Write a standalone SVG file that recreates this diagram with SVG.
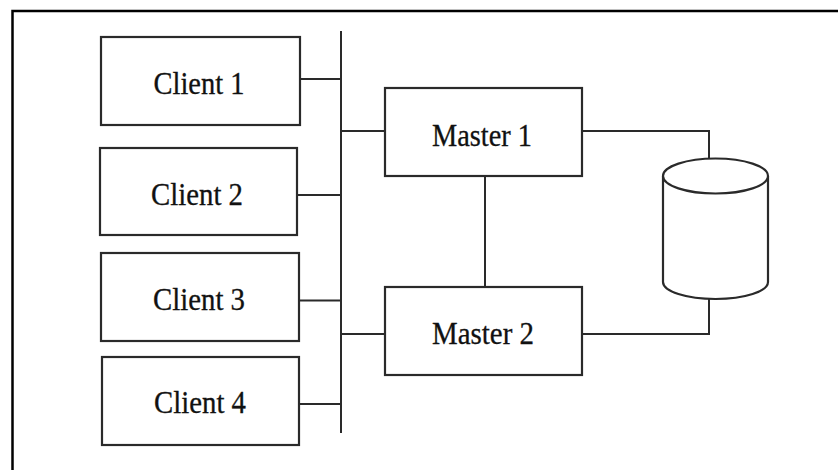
<svg xmlns="http://www.w3.org/2000/svg" width="838" height="470" viewBox="0 0 838 470">
<style>
.box{fill:#fff;stroke:#2a2a2a;stroke-width:2.2}
.lbl{font-family:"Liberation Serif","Times New Roman",serif;font-size:31px;fill:#111;stroke:#111;stroke-width:0.3;text-anchor:middle}
.ln{fill:none;stroke:#2a2a2a;stroke-width:2}
</style>
<rect x="0" y="0" width="838" height="470" fill="#fff"/>
<path d="M12.5,472 V11 H840" fill="none" stroke="#000" stroke-width="2.5"/>
<g id="connectors">
<line class="ln" x1="341" y1="31" x2="341" y2="433"/>
<line class="ln" x1="300" y1="79" x2="341" y2="79"/>
<line class="ln" x1="297" y1="195" x2="341" y2="195"/>
<line class="ln" x1="299" y1="300.5" x2="341" y2="300.5"/>
<line class="ln" x1="299" y1="404" x2="341" y2="404"/>
<line class="ln" x1="341" y1="131" x2="385" y2="131"/>
<line class="ln" x1="341" y1="334" x2="385" y2="334"/>
<line class="ln" x1="485" y1="176" x2="485" y2="287"/>
<polyline class="ln" points="582,131 709,131 709,159"/>
<polyline class="ln" points="582,334 709,334 709,299"/>
</g>
<g id="client1"><rect class="box" x="101" y="37" width="199" height="88"/><text class="lbl" x="199" y="94" textLength="91" lengthAdjust="spacingAndGlyphs">Client 1</text></g>
<g id="client2"><rect class="box" x="100" y="148" width="197" height="87"/><text class="lbl" x="197" y="205" textLength="92" lengthAdjust="spacingAndGlyphs">Client 2</text></g>
<g id="client3"><rect class="box" x="101" y="253" width="198" height="88"/><text class="lbl" x="199" y="310" textLength="92" lengthAdjust="spacingAndGlyphs">Client 3</text></g>
<g id="client4"><rect class="box" x="102" y="357" width="197" height="88"/><text class="lbl" x="200" y="413" textLength="92" lengthAdjust="spacingAndGlyphs">Client 4</text></g>
<g id="master1"><rect class="box" x="385" y="88" width="197" height="88"/><text class="lbl" x="482" y="146" textLength="100" lengthAdjust="spacingAndGlyphs">Master 1</text></g>
<g id="master2"><rect class="box" x="385" y="287" width="197" height="88"/><text class="lbl" x="483" y="344" textLength="102" lengthAdjust="spacingAndGlyphs">Master 2</text></g>
<g id="database">
<path d="M663,176 V282 A52.5,17 0 0 0 768,282 V176" fill="#fff" stroke="#2a2a2a" stroke-width="2.2"/>
<ellipse cx="715.5" cy="176" rx="52.5" ry="17.5" fill="#fff" stroke="#2a2a2a" stroke-width="2.2"/>
</g>
</svg>
